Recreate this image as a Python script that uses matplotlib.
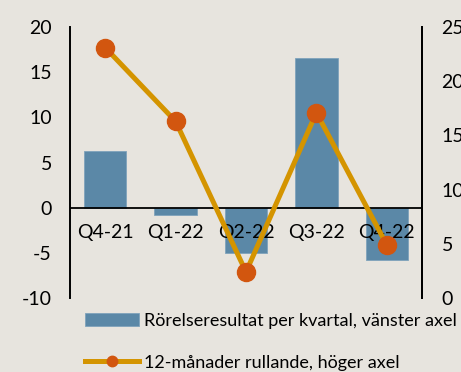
import matplotlib
matplotlib.use("Agg")
import matplotlib.pyplot as plt
from matplotlib.patches import Patch
from matplotlib.lines import Line2D

categories = ["Q4-21", "Q1-22", "Q2-22", "Q3-22", "Q4-22"]
quarterly = [6.3, -0.85, -5.0, 16.6, -5.8]
rolling12 = [23.1, 16.3, 2.4, 17.1, 4.9]
left_ticks = [-10, -5, 0, 5, 10, 15, 20]
right_ticks = [0, 5, 10, 15, 20, 25]
bar_label = "Rörelseresultat per kvartal, vänster axel"
line_label = "12-månader rullande, höger axel"

BG = "#E7E4DE"
BAR = "#5B88A7"
LINE = "#D49400"
MARK = "#D2560F"

plt.rcParams['font.family'] = ['Lato', 'DejaVu Sans']
fig = plt.figure(figsize=(4.61, 3.72), dpi=100, facecolor=BG)
ax = fig.add_axes([70/461, 1-298/372, (422-70)/461, (298-27)/372])
ax.set_facecolor('none')
x = list(range(len(categories)))
ax.bar(x, quarterly, width=0.6, color=BAR, edgecolor="#7FA3BC", linewidth=0.6, zorder=2)
ax.set_xlim(-0.5, 4.5)
ax.set_ylim(-10, 20)
ax.set_yticks(left_ticks)
ax.set_yticklabels([str(t) for t in left_ticks])
ax.set_xticks([])
ax.axhline(0, color="black", lw=1.3, zorder=3)
for s in ["top", "bottom"]:
    ax.spines[s].set_visible(False)
for s in ["left", "right"]:
    ax.spines[s].set_linewidth(1.4)
ax.tick_params(axis='y', length=0, pad=13, labelsize=14)
for i, c in enumerate(categories):
    ax.annotate(c, (i, 0), xytext=(0, -18), textcoords='offset points',
                ha='center', va='center', fontsize=14, zorder=4)

ax2 = ax.twinx()
ax2.set_facecolor('none')
ax2.plot(x, rolling12, color=LINE, lw=3.6, marker='o', markersize=13,
         markerfacecolor=MARK, markeredgecolor=MARK, zorder=5)
ax2.set_ylim(0, 25)
ax2.set_yticks(right_ticks)
ax2.tick_params(axis='y', length=0, pad=14, labelsize=14)
for s in ["top", "bottom", "left"]:
    ax2.spines[s].set_visible(False)
ax2.spines["right"].set_linewidth(1.4)

handles = [Patch(facecolor=BAR, edgecolor="#7FA3BC", linewidth=0.6),
           Line2D([], [], color=LINE, lw=3.6, marker='o', markersize=7.5,
                  markerfacecolor=MARK, markeredgecolor=MARK)]
fig.legend(handles, [bar_label, line_label], loc='upper left',
           bbox_to_anchor=(85/461, 1-313/372), frameon=False, fontsize=13,
           handlelength=3.0, handletextpad=0.25, labelspacing=1.42,
           borderaxespad=0, borderpad=0)
fig.savefig("out.png", dpi=100, facecolor=BG)
